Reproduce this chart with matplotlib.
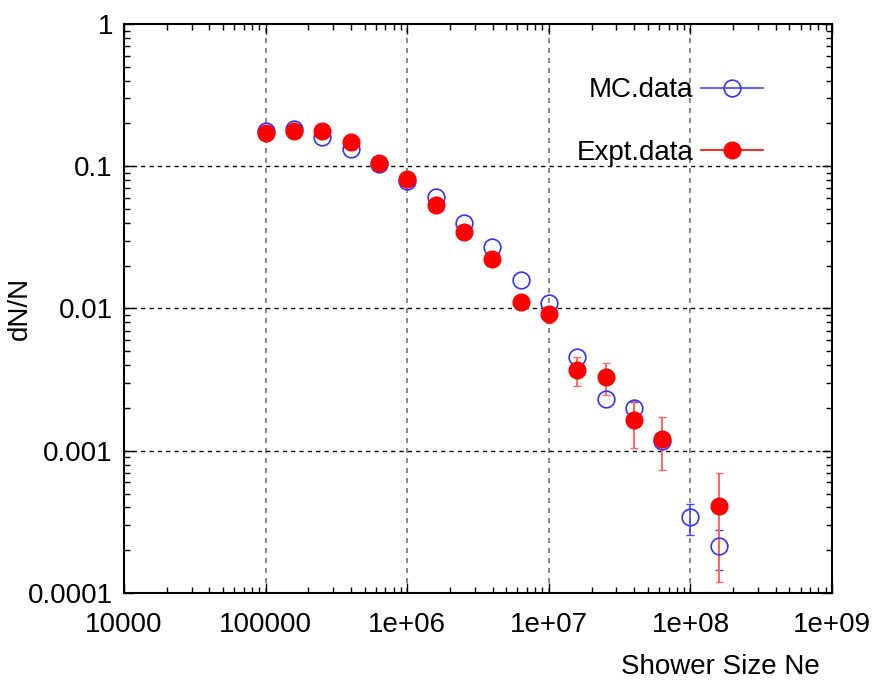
import numpy as np
import matplotlib
matplotlib.use("Agg")
import matplotlib.pyplot as plt
from matplotlib.lines import Line2D

plt.rcParams['font.family'] = ['Liberation Sans', 'DejaVu Sans']

# shower size bins (log spaced, 5 per decade)
ne_mc = [1.0e5, 1.585e5, 2.512e5, 3.981e5, 6.310e5, 1.0e6, 1.585e6, 2.512e6,
         3.981e6, 6.310e6, 1.0e7, 1.585e7, 2.512e7, 3.981e7, 6.310e7, 1.0e8, 1.585e8]
mc_val = [0.176, 0.183, 0.160, 0.132, 0.104, 0.0788, 0.0611, 0.0398,
          0.0270, 0.0159, 0.0109, 0.00459, 0.00230, 0.00201, 0.00117, 0.00034, 0.000215]
mc_lo = [0, 0, 0, 0, 0, 0, 0, 0,
         0, 0, 0, 0, 0, 0.0002, 0.0001, 0.000084, 0.000071]
mc_hi = [0, 0, 0, 0, 0, 0, 0, 0,
         0, 0, 0, 0, 0, 0.0002, 0.0001, 0.000083, 0.000063]

ne_ex = [1.0e5, 1.585e5, 2.512e5, 3.981e5, 6.310e5, 1.0e6, 1.585e6, 2.512e6,
         3.981e6, 6.310e6, 1.0e7, 1.585e7, 2.512e7, 3.981e7, 6.310e7, 1.585e8]
ex_val = [0.171, 0.178, 0.177, 0.149, 0.105, 0.0818, 0.0532, 0.0345,
          0.0222, 0.0111, 0.00912, 0.00371, 0.00329, 0.00164, 0.00121, 0.00041]
ex_lo = [0, 0, 0, 0, 0, 0, 0, 0,
         0, 0.0012, 0.0012, 0.00088, 0.00082, 0.00059, 0.000476, 0.00029]
ex_hi = [0, 0, 0, 0, 0, 0, 0, 0,
         0, 0.0006, 0.0006, 0.00084, 0.00084, 0.00058, 0.00052, 0.000286]


def with_err(x, y, lo, hi):
    x, y, lo, hi = map(np.asarray, (x, y, lo, hi))
    m = (lo > 0) | (hi > 0)
    return x[m], y[m], np.vstack([lo[m], hi[m]])


fig = plt.figure(figsize=(8.75, 6.92), dpi=100)
ax = fig.add_axes([0.1417, 0.1431, 0.8093, 0.8222])

# error bars only where there is one
ex_, ey_, ee_ = with_err(ne_mc, mc_val, mc_lo, mc_hi)
ax.errorbar(ex_, ey_, yerr=ee_, fmt='none', ecolor='#4444ff', elinewidth=1.2,
            capsize=3, zorder=2)
ex_, ey_, ee_ = with_err(ne_ex, ex_val, ex_lo, ex_hi)
ax.errorbar(ex_, ey_, yerr=ee_, fmt='none', ecolor='#ff6666', elinewidth=1.4,
            capsize=3, zorder=2)

ax.plot(ne_mc, mc_val, 'o', mfc='none', mec='#3333ff', ms=12, mew=1.2, zorder=3)
ax.plot(ne_ex, ex_val, 'o', mfc='red', mec='red', ms=12, zorder=4)

ax.set_xscale('log')
ax.set_yscale('log')
ax.set_xlim(1e4, 1e9)
ax.set_ylim(1e-4, 1)

xt = [1e4, 1e5, 1e6, 1e7, 1e8, 1e9]
xl = ['10000', '100000', '1e+06', '1e+07', '1e+08', '1e+09']
yt = [1e-4, 1e-3, 1e-2, 1e-1, 1]
yl = ['0.0001', '0.001', '0.01', '0.1', '1']
ax.set_xticks(xt)
ax.set_xticklabels(xl)
ax.set_yticks(yt)
ax.set_yticklabels(yl)
ax.tick_params(which='both', direction='in', top=True, right=True, labelsize=20)
ax.tick_params(which='major', length=7, width=1)
ax.tick_params(which='minor', length=4, width=1)
ax.tick_params(axis='x', pad=14)
ax.tick_params(axis='y', pad=8)

for v in xt[1:-1]:
    ax.axvline(v, color='#777777', ls=(0, (3, 3)), lw=1.2, zorder=1)
for v in yt[1:-1]:
    ax.axhline(v, color='black', ls=(0, (3, 3)), lw=1.0, zorder=1)

for s in ax.spines.values():
    s.set_linewidth(1.5)

ax.set_ylabel('dN/N', fontsize=20)
ax.yaxis.set_label_coords(-0.128, 0.5)
ax.set_xlabel('Shower Size Ne', fontsize=20, ha='right', va='center')
ax.xaxis.set_label_coords(0.983, -0.13)

handles = [Line2D([], [], color='#4444ff', lw=1.2, marker='o', ms=12, mfc='none',
                  mec='#3333ff', mew=1.2),
           Line2D([], [], color='red', lw=1.2, marker='o', ms=12, mfc='red', mec='red')]
ax.legend(handles, ['MC.data', 'Expt.data'], loc='upper right',
          bbox_to_anchor=(0.937, 0.95), frameon=False,
          markerfirst=False, fontsize=20, handlelength=2.2, labelspacing=1.3,
          handletextpad=0.3)

fig.savefig('out.png', dpi=100)
